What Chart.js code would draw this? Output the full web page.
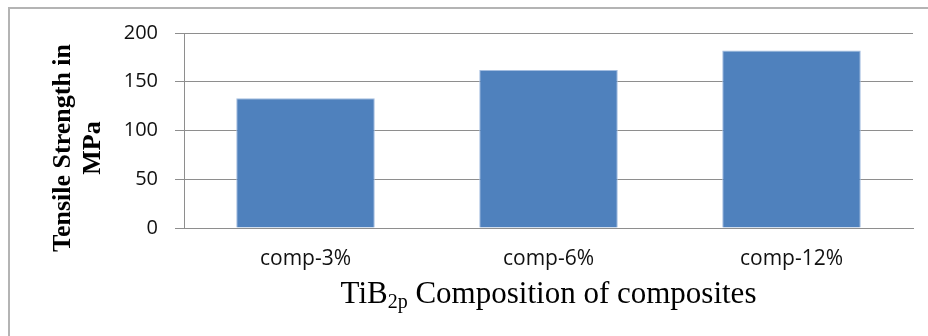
<!DOCTYPE html>
<html>
<head>
<meta charset="utf-8">
<script src="https://cdn.jsdelivr.net/npm/chart.js@4/dist/chart.umd.min.js"></script>
<style>
  html, body { margin: 0; padding: 0; background: #ffffff; }
  #wrap { width: 928px; height: 336px; position: relative; }
</style>
</head>
<body>
<div id="wrap"><canvas id="chart" width="928" height="336"></canvas></div>
<script>
// Tensile strength of TiB2p composites
const categories = ['comp-3%', 'comp-6%', 'comp-12%'];
const tensileStrength = [133, 162, 182];
const yTicks = [0, 50, 100, 150, 200];
const yTitleLines = ['Tensile Strength in', 'MPa'];
const xTitleParts = ['TiB', '2p', ' Composition of composites'];

const gridColor = '#8e8e8e';
const tickFamily = '"Open Sans", "Liberation Sans", sans-serif';

// Outer frame and the two axis titles (the x title carries a subscript)
const decorations = {
  id: 'decorations',
  beforeDraw(chart) {
    const ctx = chart.ctx;
    ctx.save();
    ctx.fillStyle = '#ffffff';
    ctx.fillRect(0, 0, chart.width, chart.height);
    ctx.strokeStyle = '#b4b4b4';
    ctx.lineWidth = 2;
    ctx.strokeRect(9, 8, chart.width + 20, chart.height + 20);
    ctx.restore();
  },
  afterDraw(chart) {
    const ctx = chart.ctx;
    const area = chart.chartArea;
    ctx.save();
    ctx.fillStyle = '#000000';

    // y title, rotated, two lines
    ctx.font = 'bold 26px "Liberation Serif", "Times New Roman", serif';
    ctx.textAlign = 'center';
    ctx.textBaseline = 'alphabetic';
    ctx.translate(0, 148);
    ctx.rotate(-Math.PI / 2);
    ctx.fillText(yTitleLines[0], 0, 70);
    ctx.fillText(yTitleLines[1], 0, 100);
    ctx.restore();

    // x title with subscript
    ctx.save();
    ctx.fillStyle = '#000000';
    ctx.textBaseline = 'alphabetic';
    ctx.textAlign = 'left';
    const mainFont = '31px "Liberation Serif", "Times New Roman", serif';
    const subFont = '20px "Liberation Serif", "Times New Roman", serif';
    ctx.font = mainFont;
    const w0 = ctx.measureText(xTitleParts[0]).width;
    const w2 = ctx.measureText(xTitleParts[2]).width;
    ctx.font = subFont;
    const w1 = ctx.measureText(xTitleParts[1]).width;
    const total = w0 + w1 + w2;
    const cx = (area.left + area.right) / 2;
    const baseY = 303;
    let x = cx - total / 2;
    ctx.font = mainFont;
    ctx.fillText(xTitleParts[0], x, baseY);
    x += w0;
    ctx.font = subFont;
    ctx.fillText(xTitleParts[1], x, baseY + 5);
    x += w1;
    ctx.font = mainFont;
    ctx.fillText(xTitleParts[2], x, baseY);
    ctx.restore();
  }
};

new Chart(document.getElementById('chart'), {
  type: 'bar',
  data: {
    labels: categories,
    datasets: [{
      data: tensileStrength,
      backgroundColor: '#4f81bd',
      borderColor: '#a3bde0',
      borderWidth: 1,
      categoryPercentage: 1,
      barPercentage: 0.57
    }]
  },
  options: {
    responsive: false,
    animation: false,
    devicePixelRatio: 1,
    layout: { padding: { top: 33, right: 15, bottom: 0, left: 0 } },
    plugins: {
      legend: { display: false },
      tooltip: { enabled: false }
    },
    scales: {
      x: {
        grid: { display: true, drawOnChartArea: false, drawTicks: false },
        border: { display: true, color: gridColor, width: 1 },
        ticks: {
          color: '#111111',
          padding: 18,
          font: { family: tickFamily, size: 21 }
        },
        afterFit(scale) { scale.height = 108; }
      },
      y: {
        min: 0,
        max: 200,
        afterBuildTicks(scale) { scale.ticks = yTicks.map(v => ({ value: v })); },
        grid: { color: gridColor, lineWidth: 1, tickLength: 9, drawTicks: true },
        border: { display: true, color: gridColor, width: 1 },
        ticks: {
          color: '#111111',
          padding: 17,
          font: { family: tickFamily, size: 20 }
        },
        afterFit(scale) { scale.width = 184; }
      }
    }
  },
  plugins: [decorations]
});
</script>
</body>
</html>
